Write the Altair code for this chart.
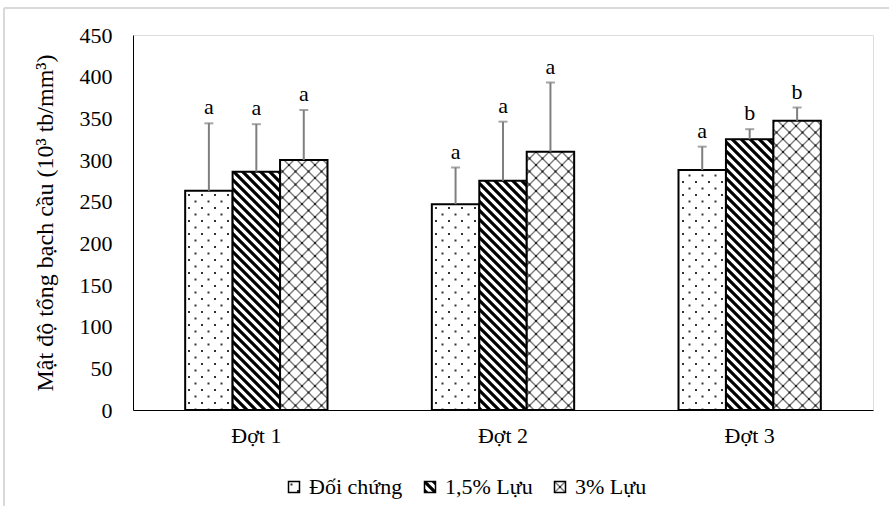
import altair as alt
import pandas as pd
import jinja2

# ---- data ----
dots = ["Đợt 1", "Đợt 2", "Đợt 3"]
groups = ["Đối chứng", "1,5% Lựu", "3% Lựu"]
mean_dc = [263, 247, 288]
mean_15 = [286, 275, 325]
mean_3 = [300, 310, 347]
upper_dc = [344, 291, 316]
upper_15 = [343, 346, 337]
upper_3 = [360, 393, 363]
sig_dc = ["a", "a", "a"]
sig_15 = ["a", "a", "b"]
sig_3 = ["a", "a", "b"]

rows = []
for g, means, ups, sigs in [
    (groups[0], mean_dc, upper_dc, sig_dc),
    (groups[1], mean_15, upper_15, sig_15),
    (groups[2], mean_3, upper_3, sig_3),
]:
    for d, m, u, s in zip(dots, means, ups, sigs):
        rows.append({"dot": d, "group": g, "mean": m, "upper": u, "sig": s})
df = pd.DataFrame(rows)

FONT = "Liberation Serif"
FS = 22
FT = 24
fills = ["url(#pDots)", "url(#pStripe)", "url(#pCross)"]
ERR = "#7f7f7f"

base = alt.Chart(df).encode(
    x=alt.X(
        "dot:N",
        sort=dots,
        scale=alt.Scale(paddingInner=0.423, paddingOuter=0.2115),
        axis=alt.Axis(
            title=None, labelAngle=0, ticks=False, labelPadding=15,
            labelFontSize=FS, labelFont=FONT, labelColor="black",
            domainColor="black", domainWidth=1,
        ),
    ),
    xOffset=alt.XOffset("group:N", sort=groups, scale=alt.Scale(domain=groups)),
)

bars = base.mark_bar(stroke="black", strokeWidth=2).encode(
    y=alt.Y(
        "mean:Q",
        scale=alt.Scale(domain=[0, 450], nice=False),
        axis=alt.Axis(
            values=list(range(0, 451, 50)),
            title="Mật độ tổng bạch cầu (10³ tb/mm³)",
            titleFont=FONT, titleFontSize=FT, titleFontWeight="normal",
            titleColor="black", titlePadding=22,
            labelFont=FONT, labelFontSize=FS, labelColor="black",
            labelPadding=21, ticks=False, grid=False,
            domainColor="black", domainWidth=1,
        ),
    ),
    fill=alt.Fill(
        "group:N",
        sort=groups,
        scale=alt.Scale(domain=groups, range=fills),
        legend=alt.Legend(
            title=None, orient="none", legendX=150, legendY=441,
            direction="horizontal", symbolType="square", symbolSize=121,
            symbolStrokeColor="black", symbolStrokeWidth=1.5,
            labelFont=FONT, labelFontSize=FS, labelColor="black",
            labelOffset=4, columnPadding=16,
        ),
    ),
)

err = base.mark_rule(color=ERR, strokeWidth=2).encode(y="mean:Q", y2="upper:Q")
cap = base.mark_tick(color=ERR, thickness=2, size=9).encode(y="upper:Q")
txt = base.mark_text(baseline="alphabetic", dy=-9, fontSize=FS, font=FONT, color="black").encode(
    y="upper:Q", text="sig:N"
)

frame_src = alt.Chart(pd.DataFrame({"k": [0]}))
frame_top = frame_src.mark_rule(color="#d9d9d9", strokeWidth=2).encode(
    x=alt.value(-129), x2=alt.value(760), y=alt.value(-27)
)
frame_left = frame_src.mark_rule(color="#d9d9d9", strokeWidth=2).encode(
    x=alt.value(-129), y=alt.value(-27), y2=alt.value(475)
)

chart = alt.layer(bars, err, cap, txt, frame_top, frame_left).properties(
    width=740,
    height=375,
    autosize=alt.AutoSizeParams(type="none"),
    padding={"left": 133, "top": 35, "right": 16, "bottom": 96},
).configure_view(stroke=None).configure(font=FONT)

TEMPLATE = jinja2.Template("""<!DOCTYPE html>
<html>
<head>
<meta charset="utf-8">
<style>
  body { margin: 0; }
  #{{ output_div }}.vega-embed { width: 100%; display: flex; }
</style>
<script type="text/javascript" src="{{ base_url }}/vega@{{ vega_version }}"></script>
<script type="text/javascript" src="{{ base_url }}/vega-lite@{{ vegalite_version }}"></script>
<script type="text/javascript" src="{{ base_url }}/vega-embed@{{ vegaembed_version }}"></script>
</head>
<body>
<svg width="0" height="0" style="position:absolute;left:0;top:0" aria-hidden="true">
  <defs>
    <pattern id="pDots" patternUnits="userSpaceOnUse" width="13" height="13">
      <rect width="13" height="13" fill="#ffffff"/>
      <rect x="3" y="3" width="2" height="2" fill="#333333"/>
      <rect x="9.5" y="9.5" width="2" height="2" fill="#333333"/>
    </pattern>
    <pattern id="pStripe" patternUnits="userSpaceOnUse" width="9" height="9">
      <rect width="9" height="9" fill="#ffffff"/>
      <path d="M-3,-3 L12,12 M-3,6 L3,12 M6,-3 L12,3" stroke="#000000" stroke-width="3.2"/>
    </pattern>
    <pattern id="pCross" patternUnits="userSpaceOnUse" width="13" height="13">
      <rect width="13" height="13" fill="#ffffff"/>
      <path d="M0,0 L13,13 M13,0 L0,13" stroke="#7a7a7a" stroke-width="1.4"/>
      <rect x="5.5" y="5.5" width="2" height="2" fill="#222222"/>
      <rect x="-1" y="-1" width="2" height="2" fill="#222222"/>
      <rect x="12" y="-1" width="2" height="2" fill="#222222"/>
      <rect x="-1" y="12" width="2" height="2" fill="#222222"/>
      <rect x="12" y="12" width="2" height="2" fill="#222222"/>
    </pattern>
  </defs>
</svg>
<div id="{{ output_div }}"></div>
<script type="text/javascript">
  vegaEmbed("#{{ output_div }}", {{ spec }}, {{ embed_options }}).catch(console.error);
</script>
</body>
</html>
""")

chart.save("out.html", embed_options={"renderer": "svg", "actions": False}, template=TEMPLATE)
